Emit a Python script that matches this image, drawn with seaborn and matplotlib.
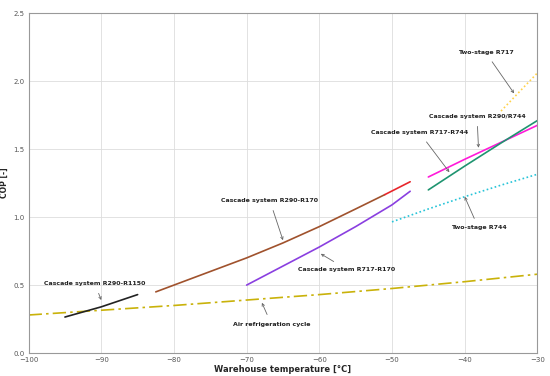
import numpy as np
import pandas as pd
import matplotlib
matplotlib.use("Agg")
import matplotlib.pyplot as plt
import seaborn as sb

sb.set_style("whitegrid")
plt.rcParams['font.family'] = ['DejaVu Sans']

# warehouse temperature [C] and COP [-]
air_t = [-100, -90, -80, -70, -60, -50, -40, -30]
air_cop = [0.28, 0.315, 0.35, 0.39, 0.43, 0.475, 0.525, 0.58]

r1150_t = [-95, -90, -85]
r1150_cop = [0.265, 0.34, 0.43]

r170_t = [-82.5, -80, -75, -70, -65, -60, -55, -51]
r170_cop = [0.45, 0.50, 0.60, 0.70, 0.81, 0.93, 1.06, 1.165]
red_t = [-51, -47.5]
red_cop = [1.165, 1.26]

r717_170_t = [-70, -65, -60, -55, -50, -47.5]
r717_170_cop = [0.50, 0.64, 0.78, 0.93, 1.09, 1.19]

r744_t = [-50, -45, -40, -35, -30]
r744_cop = [0.965, 1.06, 1.15, 1.235, 1.315]

r290_744_t = [-45, -40, -35, -30]
r290_744_cop = [1.295, 1.425, 1.55, 1.675]

r717_744_t = [-45, -40, -35, -30]
r717_744_cop = [1.20, 1.375, 1.545, 1.71]

r717_t = [-35, -32.5, -30]
r717_cop = [1.78, 1.92, 2.06]

series = [
    (air_t, air_cop, '#c9b20a', (0, (8, 2.5, 1.5, 2.5))),
    (r1150_t, r1150_cop, '#222222', '-'),
    (r170_t, r170_cop, '#a0522d', '-'),
    (red_t, red_cop, '#e8262b', '-'),
    (r717_170_t, r717_170_cop, '#8a3fe0', '-'),
    (r744_t, r744_cop, '#27c4d8', (0, (1, 1.5))),
    (r290_744_t, r290_744_cop, '#ff1ad9', '-'),
    (r717_744_t, r717_744_cop, '#1f9470', '-'),
    (r717_t, r717_cop, '#ffd24a', (0, (1, 1.5))),
]

fig = plt.figure(figsize=(5.5, 3.76), dpi=100)
ax = fig.add_axes([0.052, 0.061, 0.925, 0.904])

for t, c, col, ls in series:
    sb.lineplot(x=t, y=c, ax=ax, color=col, linestyle=ls, linewidth=1.2)

notes = [
    ("Two-stage R717", (-37.1, 2.21), (-33.2, 1.91)),
    ("Cascade system R290/R744", (-38.3, 1.74), (-38.1, 1.51)),
    ("Cascade system R717-R744", (-46.2, 1.62), (-42.1, 1.33)),
    ("Two-stage R744", (-38.1, 0.92), (-40.0, 1.15)),
    ("Cascade system R717-R170", (-56.2, 0.615), (-59.8, 0.73)),
    ("Cascade system R290-R170", (-66.8, 1.12), (-65.0, 0.83)),
    ("Air refrigeration cycle", (-66.6, 0.213), (-67.9, 0.37)),
    ("Cascade system R290-R1150", (-90.9, 0.51), (-90.0, 0.39)),
]
for txt, xyt, xy in notes:
    ax.annotate(txt, xy=xy, xytext=xyt, ha='center', va='center',
                fontsize=4.5, fontweight='bold', color='#222222',
                arrowprops=dict(arrowstyle='->', color='#666666', lw=0.6,
                                shrinkA=3, shrinkB=0))

ax.set_xlim(-100, -30)
ax.set_ylim(0, 2.5)
ax.set_xticks(np.arange(-100, -29, 10))
ax.set_yticks(np.arange(0, 2.51, 0.5))
ax.tick_params(labelsize=5, colors='#555555', length=2, pad=1)
ax.grid(color='#dddddd', linewidth=0.6)
for s in ax.spines.values():
    s.set_color('#999999')
    s.set_linewidth(0.8)
ax.set_xlabel('Warehouse temperature [°C]', fontsize=6, fontweight='bold', labelpad=1)
ax.set_ylabel('COP [-]', fontsize=5.5, fontweight='bold', labelpad=3)

fig.savefig('out.png', dpi=100)
